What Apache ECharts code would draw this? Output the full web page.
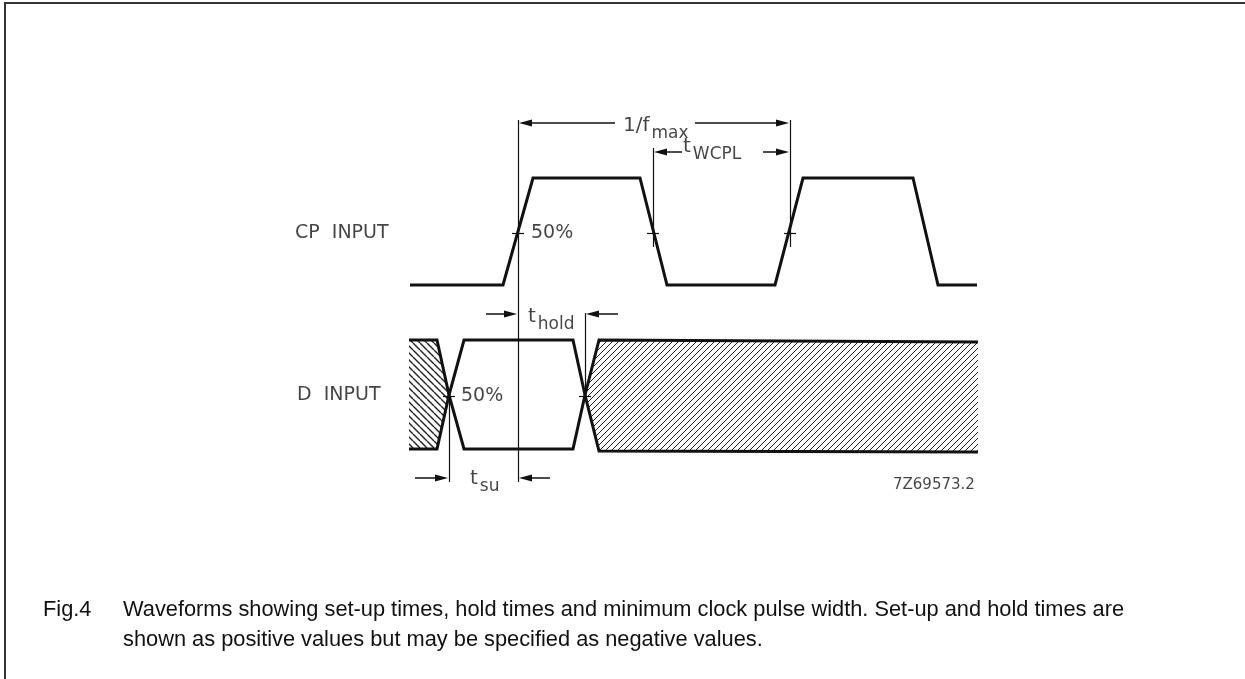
<!DOCTYPE html>
<html>
<head>
<meta charset="utf-8">
<script src="https://cdn.jsdelivr.net/npm/echarts@6/dist/echarts.min.js"></script>
<style>
  html, body { margin: 0; padding: 0; background: #fff; }
  #main { width: 1245px; height: 679px; }
</style>
</head>
<body>
<div id="main"></div>
<script>
// waveform outlines (x = time position, y = level position on the drawing)
var cpWave = [[410,285],[503,285],[533,178],[640,178],[667,285],[775,285],[803,178],[913,178],[938,285],[977,285]];
var dEdgeA = [[409,340],[437,340],[449,395],[464,449],[573,449],[585,395],[599,340],[978,342]];
var dEdgeB = [[409,449],[437,449],[449,395],[464,340],[573,340],[585,395],[599,451],[978,452]];
// "don't care" areas
var hatchLeft = [[409,340],[437,340],[449,395],[437,449],[409,449]];
var hatchRight = [[585,395],[599,340],[978,342],[978,452],[599,451]];
// reference lines and 50% marks
var guides = [
  [[518,120],[518,482]], [[653,148],[653,247]], [[790,120],[790,247]],
  [[449,396],[449,482]], [[585,313],[585,400]]
];
var marks50 = [
  [[512,233],[524,233]], [[647,233],[659,233]], [[784,233],[796,233]],
  [[443,396],[455,396]], [[579,396],[591,396]]
];
// dimension arrows: from -> to (head at "to")
var arrows = [
  [615,123,519,123], [695,123,789,123],
  [682,152,654,152], [763,152,789,152],
  [486,314,517,314], [618,314,586,314],
  [415,478,448,478], [550,478,519,478]
];
// texts
var signalNames = [[295,233,'CP  INPUT'],[297,395,'D  INPUT']];
var pctLabels = [[531,233,'50%'],[461,396,'50%']];
var dimLabels = [[623,130,'1/f','max'],[683,151,'t','WCPL'],[528,321,'t','hold'],[470,483,'t','su']];
var figId = [[893,485,'7Z69573.2']];
var captionHead = 'Fig.4';
var captionText = ['Waveforms showing set-up times, hold times and minimum clock pulse width. Set-up and hold times are',
                   'shown as positive values but may be specified as negative values.'];

function makeHatch(size, dir, width) {
  var c = document.createElement('canvas');
  c.width = size; c.height = size;
  var g = c.getContext('2d');
  g.strokeStyle = '#222';
  g.lineWidth = width;
  for (var k = -1; k <= 1; k++) {
    g.beginPath();
    if (dir === 'back') {
      g.moveTo(k * size, 0); g.lineTo(k * size + size, size);
    } else {
      g.moveTo(k * size, size); g.lineTo(k * size + size, 0);
    }
    g.stroke();
  }
  return { image: c, repeat: 'repeat' };
}
var patLeft = makeHatch(7, 'back', 1.4);
var patRight = makeHatch(6, 'fwd', 1);

function hatchSeries(poly, pat) {
  return {
    type: 'custom',
    renderItem: function (params, api) {
      var pts = poly.map(function (p) { return api.coord(p); });
      return { type: 'polygon', shape: { points: pts }, style: { fill: pat } };
    },
    data: [[0, 0]],
    silent: true,
    z: 1
  };
}

function waveSeries(d) {
  return {
    type: 'line',
    data: d,
    symbol: 'none',
    lineStyle: { color: '#111', width: 3, join: 'miter' },
    silent: true,
    z: 5
  };
}

function textSeries(d, size) {
  return {
    type: 'scatter',
    symbolSize: 0,
    data: d,
    silent: true,
    label: { show: true, position: 'right', distance: 0, formatter: function (p) { return p.data[2]; },
             fontSize: size, color: '#151515' }
  };
}

var thinLines = guides.concat(marks50).map(function (g) { return { coords: g }; });
var capStyle = { fontFamily: 'Liberation Sans', fontSize: 21.8, fontWeight: 'normal', color: '#111', lineHeight: 30 };

var chart = echarts.init(document.getElementById('main'));
var option = {
  animation: false,
  backgroundColor: '#fff',
  textStyle: { fontFamily: 'DejaVu Sans' },
  grid: { left: 0, right: 0, top: 0, bottom: 0 },
  xAxis: { type: 'value', min: 0, max: 1245, show: false },
  yAxis: { type: 'value', min: 0, max: 679, inverse: true, show: false },
  title: [
    { text: captionHead, left: 38, top: 590, textStyle: capStyle },
    { text: captionText.join('\n'), left: 118, top: 590, textStyle: capStyle }
  ],
  graphic: [{
    type: 'polyline',
    shape: { points: [[5, 679], [5, 3], [1245, 3]] },
    style: { stroke: '#333', lineWidth: 2, fill: null }
  }],
  series: [
    hatchSeries(hatchLeft, patLeft),
    hatchSeries(hatchRight, patRight),
    waveSeries(cpWave),
    waveSeries(dEdgeA),
    waveSeries(dEdgeB),
    {
      type: 'lines',
      coordinateSystem: 'cartesian2d',
      data: thinLines,
      lineStyle: { color: '#111', width: 1.2, opacity: 1 },
      silent: true,
      z: 4
    },
    {
      type: 'custom',
      data: arrows,
      silent: true,
      z: 6,
      renderItem: function (params, api) {
        var a = api.coord([api.value(0), api.value(1)]);
        var b = api.coord([api.value(2), api.value(3)]);
        var dx = b[0] - a[0], dy = b[1] - a[1];
        var len = Math.sqrt(dx * dx + dy * dy) || 1;
        var ux = dx / len, uy = dy / len;
        var hl = 13, hw = 3.5;
        var bx = b[0] - ux * hl, by = b[1] - uy * hl;
        return {
          type: 'group',
          children: [
            { type: 'line', shape: { x1: a[0], y1: a[1], x2: bx, y2: by },
              style: { stroke: '#111', lineWidth: 1.5 } },
            { type: 'polygon',
              shape: { points: [[b[0], b[1]], [bx - uy * hw, by + ux * hw], [bx + uy * hw, by - ux * hw]] },
              style: { fill: '#111' } }
          ]
        };
      }
    },
    textSeries(signalNames, 19),
    textSeries(pctLabels, 19),
    {
      type: 'scatter',
      symbolSize: 0,
      data: dimLabels,
      silent: true,
      label: {
        show: true, position: 'right', distance: 0,
        formatter: function (p) { return '{n|' + p.data[2] + '}{s|' + p.data[3] + '}'; },
        rich: {
          n: { fontSize: 20, color: '#151515', padding: [0, 0, 8, 0] },
          s: { fontSize: 17, color: '#151515', padding: [8, 0, 0, 2] }
        }
      }
    },
    textSeries(figId, 15)
  ]
};
chart.setOption(option);
</script>
</body>
</html>
